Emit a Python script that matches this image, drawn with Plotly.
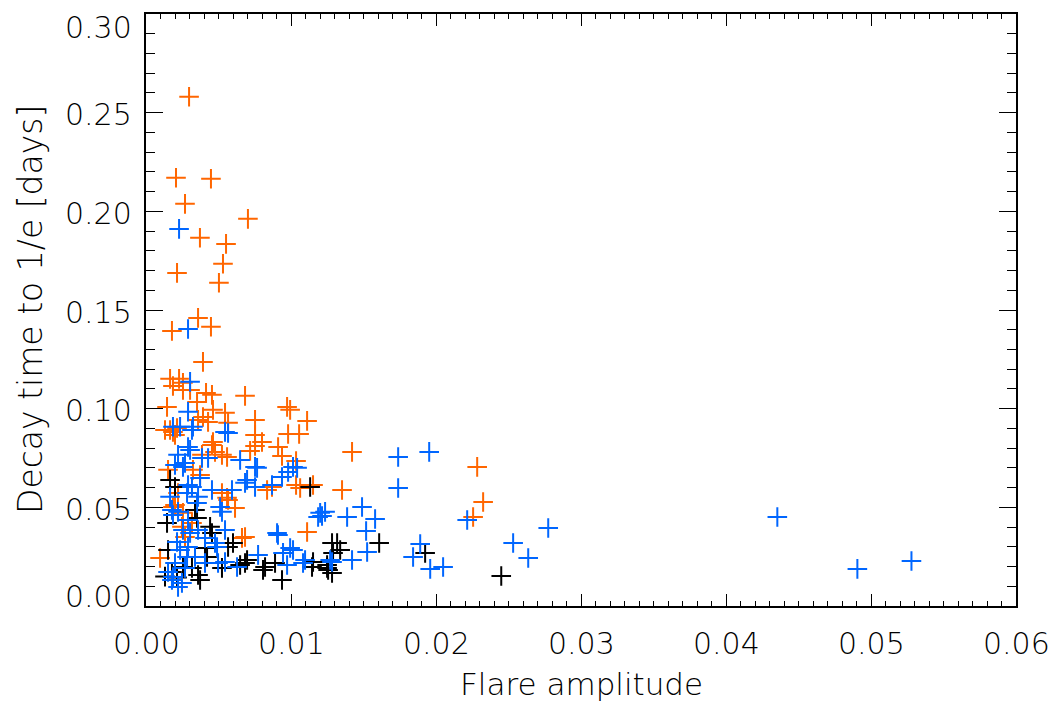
import plotly.graph_objects as go

# ---- data (flare amplitude, decay time to 1/e in days) ----
orange_x = [0.00297, 0.00207, 0.00448, 0.00269, 0.00703, 0.00372, 0.00552, 0.00531, 0.00214, 0.00503,
            0.00359, 0.00448, 0.00179, 0.00393, 0.00166, 0.00228, 0.00255, 0.00186, 0.00304, 0.00414,
            0.00455, 0.00683, 0.00255, 0.00973, 0.00994, 0.01111, 0.00752, 0.00545, 0.00462, 0.00145,
            0.00566, 0.00393, 0.00428, 0.00166, 0.00214, 0.00186, 0.00752, 0.00800, 0.00752, 0.00980,
            0.01056, 0.00911, 0.00938, 0.00718, 0.00455, 0.00476, 0.00524, 0.01035, 0.00324, 0.00373,
            0.00869, 0.00835, 0.01035, 0.01063, 0.01152, 0.01352, 0.01421, 0.00559, 0.00614, 0.00186,
            0.00255, 0.00248, 0.00317, 0.00683, 0.01111, 0.00097, 0.02284, 0.02325, 0.02256, 0.00524,
            0.00566, 0.00200, 0.00221, 0.00269, 0.00662, 0.00352, 0.00359, 0.00386, 0.00131, 0.00200,
            0.00152, 0.00559, 0.00462]
orange_y = [0.2581, 0.2170, 0.2165, 0.2038, 0.1962, 0.1866, 0.1835, 0.1734, 0.1688, 0.1638,
            0.1460, 0.1415, 0.1394, 0.1237, 0.1151, 0.1151, 0.1131, 0.1115, 0.1095, 0.1080,
            0.1070, 0.1065, 0.1095, 0.1009, 0.0994, 0.0938, 0.0943, 0.0979, 0.0994, 0.1009,
            0.0928, 0.0958, 0.0933, 0.0892, 0.0902, 0.0882, 0.0867, 0.0831, 0.0811, 0.0872,
            0.0872, 0.0806, 0.0760, 0.0786, 0.0816, 0.0781, 0.0766, 0.0735, 0.0690, 0.0664,
            0.0603, 0.0588, 0.0613, 0.0598, 0.0613, 0.0588, 0.0781, 0.0548, 0.0497, 0.0502,
            0.0472, 0.0401, 0.0421, 0.0350, 0.0375, 0.0243, 0.0705, 0.0527, 0.0451, 0.0573,
            0.0537, 0.0512, 0.0573, 0.0350, 0.0345, 0.1034, 0.0943, 0.0766, 0.0892, 0.0867,
            0.0690, 0.0755, 0.0831]

blue_x = [0.00228, 0.00290, 0.00304, 0.00290, 0.00235, 0.00324, 0.00186, 0.00545, 0.00566, 0.00290,
          0.00304, 0.00221, 0.00428, 0.00649, 0.00752, 0.00766, 0.01042, 0.00980, 0.00938, 0.00255,
          0.00200, 0.00697, 0.00752, 0.00593, 0.00373, 0.00166, 0.00317, 0.00283, 0.00359, 0.00352,
          0.00511, 0.00524, 0.00221, 0.00186, 0.01201, 0.01214, 0.00904, 0.01014, 0.00945, 0.00304,
          0.00407, 0.00490, 0.00545, 0.00773, 0.00973, 0.01097, 0.01270, 0.00186, 0.00221, 0.00179,
          0.00235, 0.00283, 0.01739, 0.01953, 0.01739, 0.01490, 0.01235, 0.01187, 0.01387, 0.01580,
          0.01518, 0.01525, 0.01421, 0.01283, 0.01083, 0.01891, 0.01842, 0.01960, 0.02049, 0.02215,
          0.02532, 0.02636, 0.02774, 0.04354, 0.04906, 0.05279, 0.00290, 0.00455, 0.00179, 0.00290,
          0.00255, 0.00359, 0.00476, 0.00214, 0.00290, 0.00338, 0.00200, 0.00269, 0.00407, 0.00497,
          0.00152, 0.00248, 0.00545, 0.01014, 0.00683, 0.00869, 0.00910, 0.00994, 0.00628, 0.00317,
          0.00386, 0.00269]
blue_y = [0.1911, 0.1404, 0.1136, 0.0984, 0.0908, 0.0908, 0.0908, 0.0882, 0.0877, 0.0806,
          0.0791, 0.0766, 0.0750, 0.0740, 0.0705, 0.0700, 0.0700, 0.0679, 0.0654, 0.0705,
          0.0715, 0.0639, 0.0603, 0.0588, 0.0649, 0.0553, 0.0603, 0.0573, 0.0553, 0.0522,
          0.0502, 0.0477, 0.0477, 0.0461, 0.0472, 0.0456, 0.0370, 0.0284, 0.0269, 0.0370,
          0.0345, 0.0299, 0.0223, 0.0259, 0.0208, 0.0233, 0.0233, 0.0147, 0.0096, 0.0132,
          0.0284, 0.0248, 0.0755, 0.0781, 0.0598, 0.0502, 0.0477, 0.0451, 0.0451, 0.0441,
          0.0380, 0.0274, 0.0233, 0.0223, 0.0218, 0.0314, 0.0248, 0.0188, 0.0198, 0.0436,
          0.0319, 0.0243, 0.0395, 0.0451, 0.0188, 0.0228, 0.0613, 0.0588, 0.0487, 0.0436,
          0.0385, 0.0385, 0.0319, 0.0324, 0.0299, 0.0248, 0.0218, 0.0193, 0.0218, 0.0218,
          0.0172, 0.0117, 0.0385, 0.0705, 0.0624, 0.0613, 0.0360, 0.0294, 0.0198, 0.0892,
          0.0750, 0.0725]

black_x = [0.00166, 0.00145, 0.00352, 0.00442, 0.00600, 0.00697, 0.00821, 0.00938, 0.00649, 0.01283,
           0.01290, 0.01249, 0.01152, 0.00179, 0.00373, 0.00255, 0.00421, 0.01132, 0.01318, 0.01339,
           0.01608, 0.01925, 0.01145, 0.01249, 0.01283, 0.02450, 0.00200, 0.00338, 0.00455, 0.00566,
           0.00152, 0.00407, 0.00317, 0.00524, 0.00186, 0.00359, 0.00683, 0.00807, 0.00890, 0.01256,
           0.00131, 0.00214]
black_y = [0.0639, 0.0421, 0.0446, 0.0401, 0.0319, 0.0233, 0.0198, 0.0132, 0.0208, 0.0319,
           0.0269, 0.0208, 0.0223, 0.0172, 0.0132, 0.0198, 0.0248, 0.0603, 0.0319, 0.0284,
           0.0319, 0.0269, 0.0198, 0.0193, 0.0167, 0.0152, 0.0603, 0.0487, 0.0370, 0.0299,
           0.0284, 0.0294, 0.0193, 0.0193, 0.0147, 0.0157, 0.0218, 0.0183, 0.0218, 0.0183,
           0.0149, 0.0145]

x_ticks = [0.00, 0.01, 0.02, 0.03, 0.04, 0.05, 0.06]
x_labels = ["0.00", "0.01", "0.02", "0.03", "0.04", "0.05", "0.06"]
y_ticks = [0.00, 0.05, 0.10, 0.15, 0.20, 0.25, 0.30]
y_labels = ["0.00", "0.05", "0.10", "0.15", "0.20", "0.25", "0.30"]
x_title = "Flare amplitude"
y_title = "Decay time to 1/e [days]"

ORANGE = "rgb(255,102,0)"
BLUE = "rgb(0,102,255)"
BLACK = "rgb(0,0,0)"
FONT = "DejaVu Sans"
WEIGHT = 200

fig = go.Figure()
for xs, ys, col in [(orange_x, orange_y, ORANGE), (black_x, black_y, BLACK), (blue_x, blue_y, BLUE)]:
    fig.add_trace(go.Scatter(
        x=xs, y=ys, mode="markers",
        marker=dict(symbol="cross-thin", size=14, line=dict(color=col, width=2), color=col),
        showlegend=False, hoverinfo="x+y"))

axis_common = dict(showgrid=False, zeroline=False, showline=True, linecolor="black", linewidth=1.5,
                   mirror="ticks", ticks="inside", tickcolor="black", tickwidth=1.2,
                   showticklabels=False)
fig.update_xaxes(range=[0, 0.06], tickvals=x_ticks, ticklen=12,
                 minor=dict(dtick=0.001, ticklen=5, ticks="inside", tickcolor="black", tickwidth=1),
                 **axis_common)
fig.update_yaxes(range=[0, 0.30], tickvals=y_ticks, ticklen=17,
                 minor=dict(dtick=0.01, ticklen=9, ticks="inside", tickcolor="black", tickwidth=1),
                 **axis_common)

tick_font = dict(family=FONT, size=30, color="black", weight=WEIGHT)
ann = []
for v, t in zip(x_ticks, x_labels):
    ann.append(dict(x=v, xref="x", y=0, yref="paper", text=t, showarrow=False,
                    xanchor="center", yanchor="middle", yshift=-37, font=tick_font))
ymin, ymax = min(y_ticks), max(y_ticks)
for v, t in zip(y_ticks, y_labels):
    shift = -13 if v == ymax else (10 if v == ymin else -2)
    ann.append(dict(x=0, xref="paper", y=v, yref="y", text=t, showarrow=False,
                    xanchor="right", yanchor="middle", xshift=-12, yshift=shift, font=tick_font))
ann.append(dict(x=0.5, xref="paper", y=0, yref="paper", text=x_title, showarrow=False,
                xanchor="center", yanchor="middle", yshift=-78,
                font=dict(family=FONT, size=31, color="black", weight=WEIGHT)))
ann.append(dict(x=0, xref="paper", y=0.5, yref="paper", text=y_title, showarrow=False,
                xanchor="center", yanchor="middle", xshift=-116, textangle=-90,
                font=dict(family=FONT, size=33, color="black", weight=WEIGHT)))

fig.update_layout(width=1057, height=702, margin=dict(l=146, r=41, t=14, b=96),
                  paper_bgcolor="white", plot_bgcolor="white", annotations=ann)

fig.write_html("out.html", config={"displayModeBar": False},
               post_script="document.body.style.margin='0';")
